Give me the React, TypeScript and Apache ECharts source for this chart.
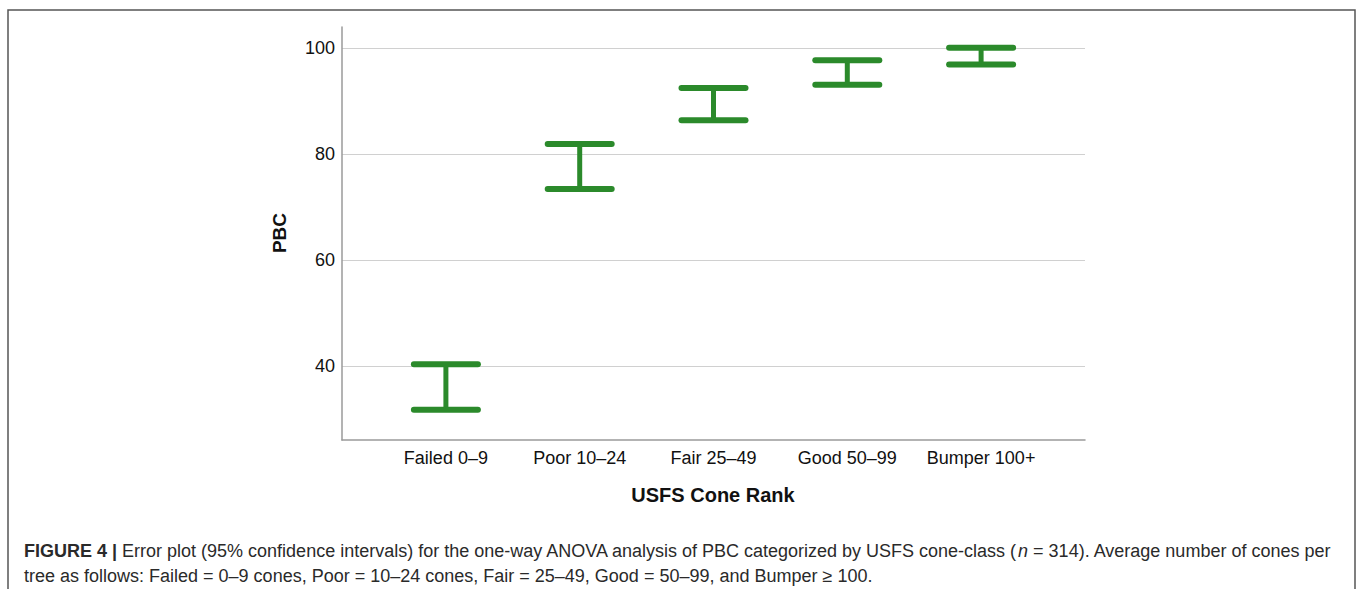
import React, { useEffect, useRef } from "react";
import * as echarts from "echarts";

const categories = ["Failed 0–9", "Poor 10–24", "Fair 25–49", "Good 50–99", "Bumper 100+"];
const lowerCI = [31.7, 73.4, 86.4, 93.1, 96.9];
const upperCI = [40.3, 81.9, 92.5, 97.7, 100.1];
const yMin = 26;
const yMax = 104;

const captionLine1 =
  "{b|FIGURE 4 |} Error plot (95% confidence intervals) for the one-way ANOVA analysis of PBC categorized by USFS cone-class ({i|n} = 314). Average number of cones per";
const captionLine2 =
  "tree as follows: Failed = 0–9 cones, Poor = 10–24 cones, Fair = 25–49, Good = 50–99, and Bumper ≥ 100.";

const GREEN = "#2b8a2b";
const FONT = "Liberation Sans, Arial, sans-serif";
const CAP_SIZE = 18;

export default function App() {
  const ref = useRef<HTMLDivElement>(null);
  useEffect(() => {
    document.body.style.margin = "0";
    const chart = echarts.init(ref.current!, null, { renderer: "svg" });
    const option: any = {
      animation: false,
      backgroundColor: "#ffffff",
      textStyle: { fontFamily: FONT },
      grid: [
        { left: 342, right: 273, top: 27, bottom: 149 },
        { left: 379, right: 310, top: 27, bottom: 149 },
      ],
      xAxis: [
        {
          type: "category",
          gridIndex: 0,
          data: categories,
          axisLine: { show: true, lineStyle: { color: "#9a9a9a", width: 1.5 } },
          axisTick: { show: false },
          axisLabel: { show: false },
          splitLine: { show: false },
        },
        {
          type: "category",
          gridIndex: 1,
          data: categories,
          axisLine: { show: false },
          axisTick: { show: false },
          axisLabel: {
            show: true,
            interval: 0,
            color: "#111",
            fontSize: 18,
            fontFamily: FONT,
            margin: 9,
          },
          splitLine: { show: false },
        },
      ],
      yAxis: [
        {
          type: "value",
          gridIndex: 0,
          min: yMin,
          max: yMax,
          splitNumber: 4,
          axisLine: { show: true, lineStyle: { color: "#9a9a9a", width: 1.5 } },
          axisTick: { show: false },
          axisLabel: {
            color: "#111",
            fontSize: 18,
            fontFamily: FONT,
            margin: 7,
            showMinLabel: false,
            showMaxLabel: false,
          },
          splitLine: {
            show: true,
            showMinLine: false,
            showMaxLine: false,
            lineStyle: { color: "#d0d0d0", width: 1.2 },
          },
        },
        {
          type: "value",
          gridIndex: 1,
          min: yMin,
          max: yMax,
          show: false,
        },
      ],
      series: [
        {
          type: "custom",
          xAxisIndex: 1,
          yAxisIndex: 1,
          data: categories.map((c, i) => [i, lowerCI[i], upperCI[i]]),
          renderItem: (params: any, api: any) => {
            const x = api.value(0);
            const lo = api.coord([x, api.value(1)]);
            const hi = api.coord([x, api.value(2)]);
            const hw = 32;
            return {
              type: "group",
              children: [
                {
                  type: "line",
                  shape: { x1: lo[0], y1: lo[1], x2: hi[0], y2: hi[1] },
                  style: { stroke: GREEN, lineWidth: 5 },
                },
                {
                  type: "line",
                  shape: { x1: hi[0] - hw, y1: hi[1], x2: hi[0] + hw, y2: hi[1] },
                  style: { stroke: GREEN, lineWidth: 6, lineCap: "round" },
                },
                {
                  type: "line",
                  shape: { x1: lo[0] - hw, y1: lo[1], x2: lo[0] + hw, y2: lo[1] },
                  style: { stroke: GREEN, lineWidth: 6, lineCap: "round" },
                },
              ],
            };
          },
        },
      ],
      graphic: [
        {
          type: "rect",
          shape: { x: 8, y: 10, width: 1347, height: 600 },
          style: { fill: "none", stroke: "#555", lineWidth: 1.5 },
          silent: true,
        },
        {
          type: "text",
          x: 279,
          y: 233,
          rotation: Math.PI / 2,
          style: {
            text: "PBC",
            fontSize: 19,
            fontWeight: "bold",
            fontFamily: FONT,
            fill: "#111",
            align: "center",
            verticalAlign: "middle",
          },
        },
        {
          type: "text",
          x: 713,
          y: 495,
          style: {
            text: "USFS Cone Rank",
            fontSize: 20,
            fontWeight: "bold",
            fontFamily: FONT,
            fill: "#111",
            align: "center",
            verticalAlign: "middle",
          },
        },
        {
          type: "text",
          x: 24,
          y: 551,
          style: {
            text: captionLine1,
            fontSize: CAP_SIZE,
            fontFamily: FONT,
            fill: "#2a2a2a",
            align: "left",
            verticalAlign: "middle",
            rich: {
              b: { fontWeight: "bold", fontSize: CAP_SIZE, fontFamily: FONT, fill: "#2a2a2a" },
              i: { fontStyle: "italic", fontSize: CAP_SIZE, fontFamily: FONT, fill: "#2a2a2a" },
            },
          },
        },
        {
          type: "text",
          x: 24,
          y: 576,
          style: {
            text: captionLine2,
            fontSize: CAP_SIZE,
            fontFamily: FONT,
            fill: "#2a2a2a",
            align: "left",
            verticalAlign: "middle",
          },
        },
      ],
    };
    chart.setOption(option);
    return () => chart.dispose();
  }, []);
  return <div ref={ref} style={{ width: 1358, height: 589 }} />;
}
